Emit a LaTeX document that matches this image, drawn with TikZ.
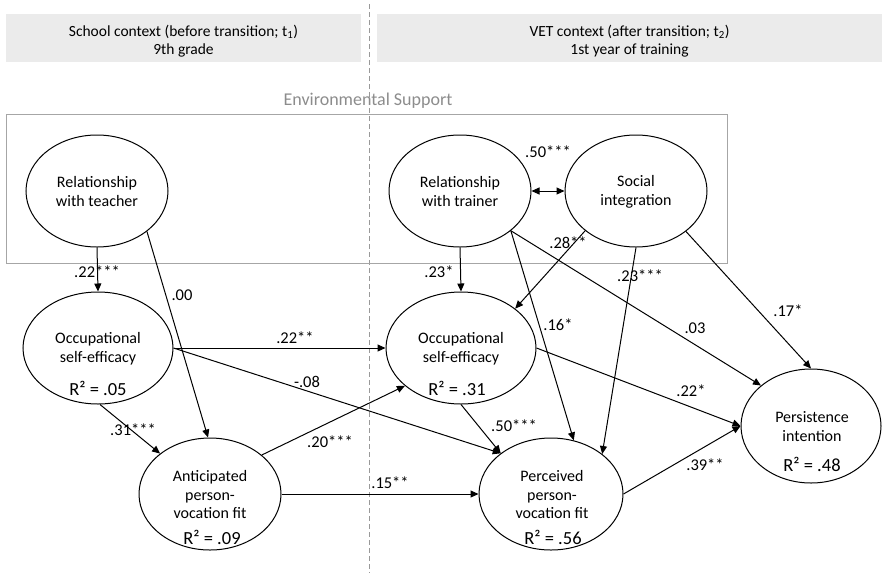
\documentclass[tikz,border=0pt]{standalone}
\usepackage{fontspec}
\setmainfont{Carlito}
\usetikzlibrary{shapes.geometric,arrows.meta}
\begin{document}
\begin{tikzpicture}[x=1pt,y=-1pt,
  lat/.style={draw, ellipse, line width=1pt, inner sep=0pt, minimum height=112pt},
  hbox/.style={fill=black!8, inner sep=0pt, minimum height=48pt},
  hdr/.style={font=\fontsize{15.5}{18}\selectfont, align=center, inner sep=0pt},
  nt/.style={font=\fontsize{16}{18.8}\selectfont, align=center, inner sep=0pt},
  rt/.style={font=\fontsize{18.5}{20}\selectfont, inner sep=0pt},
  el/.style={font=\fontsize{16.5}{19}\selectfont, inner sep=0pt},
  arr/.style={-{Triangle[length=8pt,width=7pt]}, line width=1pt},
  darr/.style={{Triangle[length=8pt,width=7pt]}-{Triangle[length=8pt,width=7pt]}, line width=1pt},
  divider/.style={draw=black!40, line width=1pt, dash pattern=on 5pt off 3pt}
]
\useasboundingbox (0,0) rectangle (882,573);

% header boxes
\node[hbox, minimum width=355pt] (hl) at (183.5,38) {};
\node[hbox, minimum width=505pt] (hr) at (629.5,38) {};
\node[hdr] (hlT) at (183.5,41) {School context (before transition; t\textsubscript{1})\\9th grade};
\node[hdr] (hrT) at (629.5,41) {VET context (after transition; t\textsubscript{2})\\1st year of training};

% divider
\coordinate (dtop) at (369,4);
\coordinate (dbot) at (369,573);
\draw[divider] (dtop) -- (dbot);

% environmental support
\node[draw=black!35, line width=1pt, inner sep=0pt, minimum width=721pt, minimum height=149pt] (env) at (366.5,188.5) {};
\node[font=\fontsize{18}{20}\selectfont, text=black!45, inner sep=0pt] (envT) at (368,101) {Environmental Support};

% latent variables
\node[lat, minimum width=142pt] (tea) at (97,191) {};
\node[lat, minimum width=150pt] (ose1) at (98,348) {};
\node[lat, minimum width=142pt] (ant) at (210,494) {};
\node[lat, minimum width=142pt] (tra) at (460,191) {};
\node[lat, minimum width=142pt] (soc) at (636,191) {};
\node[lat, minimum width=150pt] (ose2) at (461,348) {};
\node[lat, minimum width=144pt] (per) at (551,494) {};
\node[lat, minimum width=140pt, minimum height=114pt] (pers) at (811,426) {};

% texts in ellipses
\node[nt] (teaT) at (97,191.5) {Relationship\\with teacher};
\node[nt] (traT) at (460,191.5) {Relationship\\with trainer};
\node[nt] (socT) at (636,191.5) {Social\\integration};
\node[nt] (ose1T) at (98,348.5) {Occupational\\self-efficacy};
\node[rt] (ose1R) at (98,388) {R² = .05};
\node[nt] (ose2T) at (461,348.5) {Occupational\\self-efficacy};
\node[rt] (ose2R) at (457,388) {R² = .31};
\node[nt] (antT) at (210,494.5) {Anticipated\\person-\\vocation fit};
\node[rt] (antR) at (212,537) {R² = .09};
\node[nt] (perT) at (552,494.5) {Perceived\\person-\\vocation fit};
\node[rt] (perR) at (553,537) {R² = .56};
\node[nt] (persT) at (812,426.5) {Persistence\\intention};
\node[rt] (persR) at (812,464) {R² = .48};

% paths
\draw[arr] (tea.south) -- (ose1.north);
\draw[arr] (tea.-39) -- (ant.92);
\draw[arr] (ose1.east) -- (ose2.west);
\draw[arr] (ose1.east) -- (per.141);
\draw[arr] (ose1.-88) -- (ant.141);
\draw[arr] (ant.37) -- (ose2.-146);
\draw[arr] (ant.east) -- (per.west);
\draw[darr] (tra.east) -- (soc.west);
\draw[arr] (tra.south) -- (ose2.north);
\draw[arr] (soc.-142) -- (ose2.36);
\draw[arr] (tra.-38) -- (per.67);
\draw[arr] (tra.-38) -- (pers.141);
\draw[arr] (soc.south) -- (per.38);
\draw[arr] (soc.-39) -- (pers.north);
\draw[arr] (ose2.east) -- (pers.west);
\draw[arr] (ose2.south) -- (per.141);
\draw[arr] (per.east) -- (pers.west);

% coefficients
\node[el] (l1) at (97,272) {.22***};
\node[el] (l2) at (182,295) {.00};
\node[el] (l3) at (295,338) {.22**};
\node[el] (l4) at (307,382) {-.08};
\node[el] (l5) at (133,430) {.31***};
\node[el] (l6) at (330,442) {.20***};
\node[el] (l7) at (390,483) {.15**};
\node[el] (l8) at (548,152) {.50***};
\node[el] (l9) at (439,272) {.23*};
\node[el] (l10) at (568,243) {.28**};
\node[el] (l11) at (640,276) {.23***};
\node[el] (l12) at (558,325) {.16*};
\node[el] (l13) at (695,328) {.03};
\node[el] (l14) at (788,311) {.17*};
\node[el] (l15) at (691,391) {.22*};
\node[el] (l16) at (514,426) {.50***};
\node[el] (l17) at (705,465) {.39**};
\end{tikzpicture}
\end{document}
